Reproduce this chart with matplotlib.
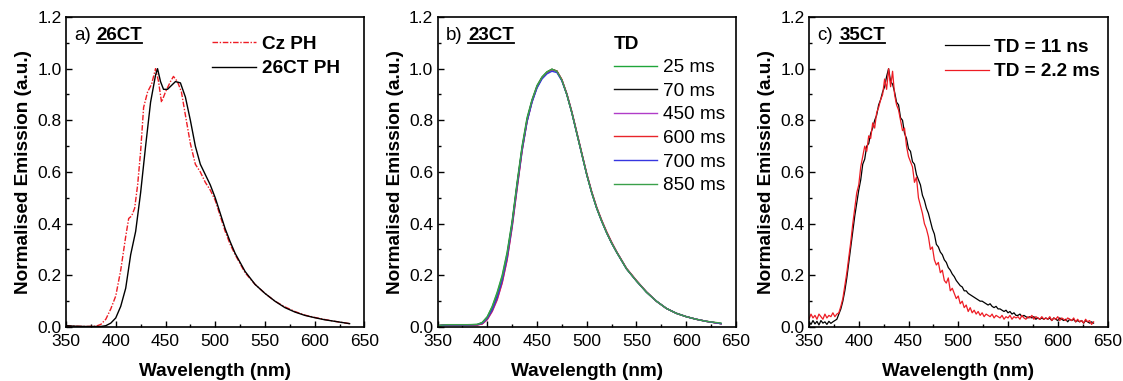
import numpy as np
import matplotlib
matplotlib.use("Agg")
import matplotlib.pyplot as plt
from matplotlib.ticker import MultipleLocator, FormatStrFormatter
from matplotlib.lines import Line2D

plt.rcParams['font.family'] = ['Liberation Sans', 'DejaVu Sans']

# ---------------- panel a: 26CT ----------------
wl_a_cz = [350, 360, 370, 380, 385, 390, 395, 400, 405, 410, 413, 416, 419, 422, 425, 428,
           432, 436, 440, 443, 446, 450, 455, 458, 462, 466, 470, 475, 480, 485, 490, 495,
           500, 505, 510, 515, 520, 525, 530, 540, 550, 560, 570, 580, 590, 600, 610, 620, 635]
cz_ph = [0.005, 0.003, 0.002, 0.003, 0.01, 0.03, 0.07, 0.12, 0.22, 0.35, 0.42, 0.43, 0.46,
         0.55, 0.68, 0.85, 0.91, 0.94, 1.0, 0.95, 0.87, 0.91, 0.95, 0.97, 0.95, 0.91, 0.82,
         0.71, 0.63, 0.60, 0.56, 0.53, 0.49, 0.43, 0.37, 0.32, 0.28, 0.245, 0.21, 0.165,
         0.13, 0.10, 0.078, 0.06, 0.046, 0.037, 0.029, 0.022, 0.013]

wl_a_ct = [350, 360, 370, 380, 385, 390, 395, 400, 405, 410, 415, 420, 425, 430, 435, 440,
           442, 445, 448, 452, 456, 460, 465, 470, 475, 480, 485, 490, 495, 500, 505, 510,
           515, 520, 525, 530, 540, 550, 560, 570, 580, 590, 600, 610, 620, 635]
ct26_ph = [0.005, 0.003, 0.002, 0.002, 0.002, 0.005, 0.015, 0.035, 0.08, 0.15, 0.28, 0.37,
           0.52, 0.70, 0.87, 0.975, 1.0, 0.95, 0.92, 0.92, 0.935, 0.95, 0.945, 0.89, 0.80,
           0.70, 0.63, 0.59, 0.55, 0.50, 0.44, 0.38, 0.33, 0.285, 0.25, 0.215, 0.165, 0.13,
           0.10, 0.075, 0.058, 0.045, 0.036, 0.028, 0.022, 0.013]

# ---------------- panel b: 23CT, delay times ----------------
wl_b = [350, 360, 370, 380, 390, 395, 400, 405, 410, 415, 420, 425, 430, 435, 440, 445,
        450, 455, 460, 465, 470, 475, 480, 485, 490, 495, 500, 505, 510, 515, 520, 525,
        530, 540, 550, 560, 570, 580, 590, 600, 610, 620, 635]
td_labels = ['25 ms', '70 ms', '450 ms', '600 ms', '700 ms', '850 ms']
td_colors = ['#1fa53a', '#111111', '#b03cc8', '#e8242a', '#3636e0', '#3aa04a']
b_25 = [0.005, 0.008, 0.008, 0.008, 0.01, 0.018, 0.04, 0.08, 0.135, 0.20, 0.29, 0.41, 0.56,
        0.70, 0.81, 0.88, 0.935, 0.968, 0.988, 0.998, 0.99, 0.955, 0.90, 0.83, 0.75, 0.67,
        0.59, 0.52, 0.46, 0.41, 0.365, 0.325, 0.29, 0.225, 0.178, 0.135, 0.10, 0.072, 0.053,
        0.04, 0.03, 0.022, 0.013]
b_70 = [0.005, 0.008, 0.008, 0.008, 0.009, 0.015, 0.035, 0.07, 0.12, 0.185, 0.275, 0.40,
        0.55, 0.69, 0.80, 0.875, 0.93, 0.965, 0.985, 0.997, 0.99, 0.955, 0.90, 0.83, 0.75,
        0.67, 0.59, 0.52, 0.46, 0.41, 0.365, 0.325, 0.29, 0.225, 0.178, 0.135, 0.10, 0.072,
        0.053, 0.04, 0.03, 0.022, 0.013]
b_450 = [0.005, 0.008, 0.008, 0.008, 0.008, 0.012, 0.028, 0.06, 0.105, 0.17, 0.26, 0.385,
         0.535, 0.68, 0.795, 0.872, 0.928, 0.963, 0.984, 0.996, 0.99, 0.957, 0.902, 0.832,
         0.752, 0.672, 0.592, 0.522, 0.462, 0.412, 0.367, 0.327, 0.291, 0.226, 0.179, 0.136,
         0.10, 0.072, 0.053, 0.04, 0.03, 0.022, 0.013]
b_600 = [0.005, 0.008, 0.008, 0.008, 0.008, 0.012, 0.03, 0.062, 0.108, 0.172, 0.262, 0.388,
         0.538, 0.682, 0.797, 0.873, 0.929, 0.964, 0.985, 0.997, 0.991, 0.958, 0.903, 0.834,
         0.754, 0.674, 0.594, 0.524, 0.464, 0.414, 0.369, 0.329, 0.292, 0.227, 0.18, 0.136,
         0.10, 0.072, 0.053, 0.04, 0.03, 0.022, 0.013]
b_700 = [0.005, 0.008, 0.008, 0.008, 0.009, 0.014, 0.033, 0.066, 0.115, 0.18, 0.27, 0.395,
         0.545, 0.685, 0.795, 0.87, 0.925, 0.96, 0.98, 0.99, 0.985, 0.953, 0.90, 0.83, 0.75,
         0.67, 0.59, 0.52, 0.46, 0.41, 0.365, 0.325, 0.29, 0.225, 0.178, 0.135, 0.10, 0.072,
         0.053, 0.04, 0.03, 0.022, 0.013]
b_850 = [0.006, 0.009, 0.009, 0.009, 0.01, 0.017, 0.038, 0.078, 0.13, 0.195, 0.285, 0.405,
         0.555, 0.695, 0.805, 0.878, 0.932, 0.966, 0.987, 0.998, 0.99, 0.956, 0.90, 0.83,
         0.75, 0.67, 0.59, 0.52, 0.46, 0.41, 0.365, 0.325, 0.29, 0.225, 0.178, 0.135, 0.10,
         0.072, 0.053, 0.04, 0.03, 0.022, 0.015]

# ---------------- panel c: 35CT ----------------
wl_c = np.arange(350, 637, 2)
c_11ns = [0.02, 0.01, 0.025, 0.012, 0.022, 0.008, 0.025, 0.015, 0.02, 0.01, 0.022, 0.014, 0.02, 0.025,
          0.03, 0.05, 0.07, 0.10, 0.14, 0.19, 0.25, 0.31, 0.37, 0.43, 0.48,
          0.53, 0.57, 0.63, 0.65, 0.70, 0.71, 0.75, 0.77, 0.80, 0.82, 0.86, 0.88, 0.91, 0.93, 0.97,
          1.0, 0.95, 0.94, 0.91, 0.87, 0.86, 0.81, 0.80, 0.75, 0.73,
          0.69, 0.68, 0.64, 0.63, 0.59, 0.57, 0.55, 0.51, 0.49, 0.46,
          0.44, 0.41, 0.38, 0.36, 0.32, 0.31, 0.29, 0.28, 0.26, 0.25, 0.23, 0.22, 0.205, 0.195, 0.18,
          0.17, 0.16, 0.155, 0.14, 0.14, 0.13, 0.125, 0.12, 0.115, 0.11, 0.105, 0.10, 0.10, 0.095, 0.09,
          0.085, 0.09, 0.08, 0.075, 0.08, 0.07, 0.07, 0.065, 0.06, 0.065, 0.055, 0.06, 0.05, 0.055, 0.045,
          0.045, 0.05, 0.04, 0.045, 0.04, 0.035, 0.04, 0.035, 0.04, 0.03, 0.035, 0.03, 0.035, 0.03, 0.035,
          0.03, 0.035, 0.025, 0.035, 0.03, 0.025, 0.035, 0.03, 0.025, 0.03, 0.02, 0.03, 0.025, 0.03, 0.02,
          0.025, 0.02, 0.025, 0.015, 0.025, 0.02, 0.015, 0.02, 0.015]
c_2ms = [0.03, 0.05, 0.035, 0.045, 0.03, 0.05, 0.04, 0.03, 0.05, 0.035, 0.045, 0.04, 0.055, 0.04,
         0.05, 0.055, 0.08, 0.11, 0.16, 0.21, 0.27, 0.33, 0.40, 0.46, 0.52,
         0.55, 0.62, 0.66, 0.70, 0.68, 0.74, 0.73, 0.79, 0.77, 0.83, 0.85, 0.88, 0.90, 0.96, 0.92,
         1.0, 0.93, 0.99, 0.90, 0.86, 0.84, 0.80, 0.76, 0.77, 0.70,
         0.66, 0.64, 0.62, 0.56, 0.58, 0.50, 0.47, 0.44, 0.40, 0.38,
         0.35, 0.30, 0.31, 0.26, 0.24, 0.25, 0.21, 0.22, 0.18, 0.17, 0.19, 0.14, 0.15, 0.13, 0.11,
         0.12, 0.09, 0.10, 0.075, 0.085, 0.06, 0.075, 0.055, 0.065, 0.05, 0.06, 0.045, 0.055, 0.04, 0.05,
         0.045, 0.04, 0.05, 0.035, 0.045, 0.04, 0.035, 0.045, 0.03, 0.04, 0.035, 0.045, 0.03, 0.04, 0.035,
         0.04, 0.03, 0.045, 0.035, 0.03, 0.04, 0.035, 0.045, 0.03, 0.04, 0.035, 0.03, 0.04, 0.03, 0.035,
         0.03, 0.04, 0.025, 0.035, 0.03, 0.04, 0.025, 0.035, 0.03, 0.025, 0.035, 0.03, 0.025, 0.035, 0.02,
         0.03, 0.02, 0.025, 0.015, 0.03, 0.02, 0.025, 0.01, 0.02]

RED = '#ee1c24'
FS = 13.7

fig = plt.figure(figsize=(11.23, 3.81), dpi=100)
lefts = [66, 437.5, 809]
axes = [fig.add_axes([l / 1123, 54 / 381, 298.5 / 1123, 310 / 381]) for l in lefts]


def style_axis(ax):
    ax.set_xlim(350, 650)
    ax.set_ylim(0, 1.2)
    ax.xaxis.set_major_locator(MultipleLocator(50))
    ax.xaxis.set_minor_locator(MultipleLocator(25))
    ax.yaxis.set_major_locator(MultipleLocator(0.2))
    ax.yaxis.set_minor_locator(MultipleLocator(0.1))
    ax.yaxis.set_major_formatter(FormatStrFormatter('%.1f'))
    ax.tick_params(which='both', direction='in', top=False, right=False, labelsize=12.5,
                   width=1.0)
    ax.tick_params(axis='y', pad=3)
    ax.tick_params(axis='x', pad=5)
    ax.tick_params(which='major', length=4.5)
    ax.tick_params(which='minor', length=2.5)
    for s in ax.spines.values():
        s.set_linewidth(1.2)
    ax.set_xlabel('Wavelength (nm)', fontsize=FS, fontweight='bold', labelpad=10)
    ax.set_ylabel('Normalised Emission (a.u.)', fontsize=FS, fontweight='bold', labelpad=4)


titles = [('a)', '26CT'), ('b)', '23CT'), ('c)', '35CT')]
bold_texts = []
for ax, (pre, name) in zip(axes, titles):
    style_axis(ax)
    ax.text(0.027, 0.94, pre, transform=ax.transAxes, fontsize=13.5, va='center', ha='left')
    t2 = ax.text(0.103, 0.94, name, transform=ax.transAxes, fontsize=13.5, va='center', ha='left',
                 fontweight='bold')
    bold_texts.append((ax, t2))

# panel a
ax = axes[0]
ax.plot(wl_a_cz, cz_ph, color=RED, lw=1.0, ls=(0, (4, 1.2, 1, 1.2)), label='Cz PH')
ax.plot(wl_a_ct, ct26_ph, color='black', lw=1.0, label='26CT PH')
ax.legend(loc='upper left', bbox_to_anchor=(0.49, 0.94), frameon=False,
          prop={'weight': 'bold', 'size': FS}, handlelength=2.3, handletextpad=0.3,
          labelspacing=0.38, borderpad=0, borderaxespad=0)

# panel b
ax = axes[1]
for vals, lab, col in zip([b_25, b_70, b_450, b_600, b_700, b_850], td_labels, td_colors):
    ax.plot(wl_b, vals, color=col, lw=1.0, label=lab)
leg = ax.legend(loc='upper left', bbox_to_anchor=(0.592, 0.94), frameon=False, title='TD',
                prop={'size': FS}, handlelength=2.25, handletextpad=0.3,
                labelspacing=0.33, borderpad=0, borderaxespad=0)
leg.get_title().set_fontweight('bold')
leg.get_title().set_fontsize(FS)
leg._legend_box.align = 'left'

# panel c
ax = axes[2]
ax.plot(wl_c, c_11ns, color='black', lw=0.9, label='TD = 11 ns')
ax.plot(wl_c, c_2ms, color=RED, lw=0.9, label='TD = 2.2 ms')
ax.legend(loc='upper left', bbox_to_anchor=(0.455, 0.93), frameon=False,
          prop={'weight': 'bold', 'size': FS}, handlelength=2.3, handletextpad=0.3,
          labelspacing=0.37, borderpad=0, borderaxespad=0)

# underline the bold sample names
fig.canvas.draw()
r = fig.canvas.get_renderer()
for ax, t in bold_texts:
    bb = t.get_window_extent(r).transformed(ax.transAxes.inverted())
    ax.add_line(Line2D([bb.x0, bb.x1], [bb.y0 + 0.003, bb.y0 + 0.003], transform=ax.transAxes,
                       color='black', lw=1.3))

fig.savefig('out.png', dpi=100)
